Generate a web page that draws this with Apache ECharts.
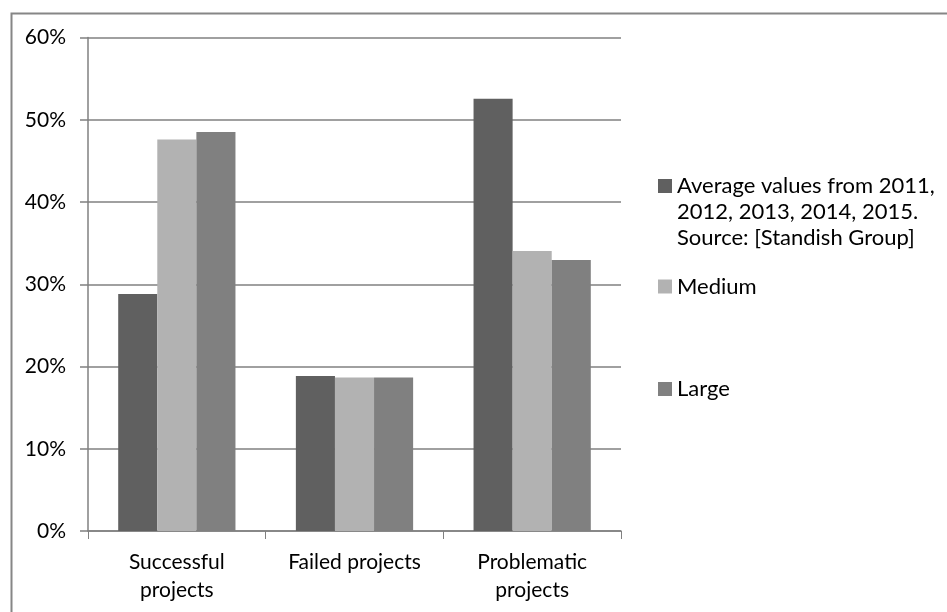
<!DOCTYPE html>
<html>
<head>
<meta charset="utf-8">
<script src="https://cdn.jsdelivr.net/npm/echarts@6/dist/echarts.min.js"></script>
<style>
  html, body { margin: 0; padding: 0; background: #ffffff; }
  #chart { width: 947px; height: 612px; }
</style>
</head>
<body>
<div id="chart"></div>
<script>
// Project outcome shares by company size
const categories = ['Successful\nprojects', 'Failed projects', 'Problematic\nprojects'];
const seriesNames = [
  'Average values from 2011,\n2012, 2013, 2014, 2015.\nSource: [Standish Group]',
  'Medium',
  'Large'
];
const averageValues = [28.8, 18.85, 52.55];
const mediumValues = [47.6, 18.65, 34.05];
const largeValues = [48.5, 18.65, 32.95];
const yTicks = { min: 0, max: 60, interval: 10 };

const FONT = 'Lato';
const FONT_SIZE = 21;
const LEGEND_FONT_SIZE = 22;
const colors = ['#606060', '#b2b2b2', '#808080'];
const seriesValues = [averageValues, mediumValues, largeValues];

const chart = echarts.init(document.getElementById('chart'));

// One legend block per entry so each swatch sits beside the first text line
function legendFor(name, top, formatter) {
  return {
    orient: 'vertical',
    left: 658,
    top: top,
    padding: 0,
    icon: 'rect',
    itemWidth: 14,
    itemHeight: 14,
    itemGap: 0,
    selectedMode: false,
    data: [name],
    formatter: formatter,
    textStyle: {
      fontFamily: FONT,
      fontSize: LEGEND_FONT_SIZE,
      color: '#000000',
      lineHeight: 26
    }
  };
}

chart.setOption({
  animation: false,
  backgroundColor: '#ffffff',
  textStyle: { fontFamily: FONT },
  graphic: [{
    type: 'rect',
    left: 9,
    top: 11,
    shape: { width: 1000, height: 700 },
    style: { fill: 'none', stroke: '#868686', lineWidth: 2 },
    silent: true
  }],
  grid: { left: 88, right: 326, top: 37.5, bottom: 81 },
  legend: [
    // two leading blank lines push the three text lines down so line one is centred on the swatch
    legendFor(seriesNames[0], 121, (name) => '\n\n' + name),
    legendFor(seriesNames[1], 273.5),
    legendFor(seriesNames[2], 376)
  ],
  xAxis: {
    type: 'category',
    data: categories,
    axisLine: { lineStyle: { color: '#808080', width: 1.5 } },
    axisTick: { show: true, length: 8, lineStyle: { color: '#808080', width: 1 } },
    axisLabel: {
      color: '#000000',
      fontFamily: FONT,
      fontSize: FONT_SIZE,
      lineHeight: 28,
      margin: 17,
      interval: 0
    }
  },
  yAxis: {
    type: 'value',
    min: yTicks.min,
    max: yTicks.max,
    interval: yTicks.interval,
    axisLine: { show: true, lineStyle: { color: '#808080', width: 1.5 } },
    axisTick: { show: true, inside: false, length: 8, lineStyle: { color: '#808080', width: 1.5 } },
    splitLine: { show: true, lineStyle: { color: '#808080', width: 1.5 } },
    axisLabel: {
      color: '#000000',
      fontFamily: FONT,
      fontSize: FONT_SIZE,
      margin: 22,
      formatter: '{value}%'
    }
  },
  series: seriesNames.map((name, i) => ({
    name: name,
    type: 'bar',
    data: seriesValues[i],
    barGap: '0%',
    barCategoryGap: '34%',
    itemStyle: { color: colors[i] },
    emphasis: { disabled: true }
  }))
});
</script>
</body>
</html>
